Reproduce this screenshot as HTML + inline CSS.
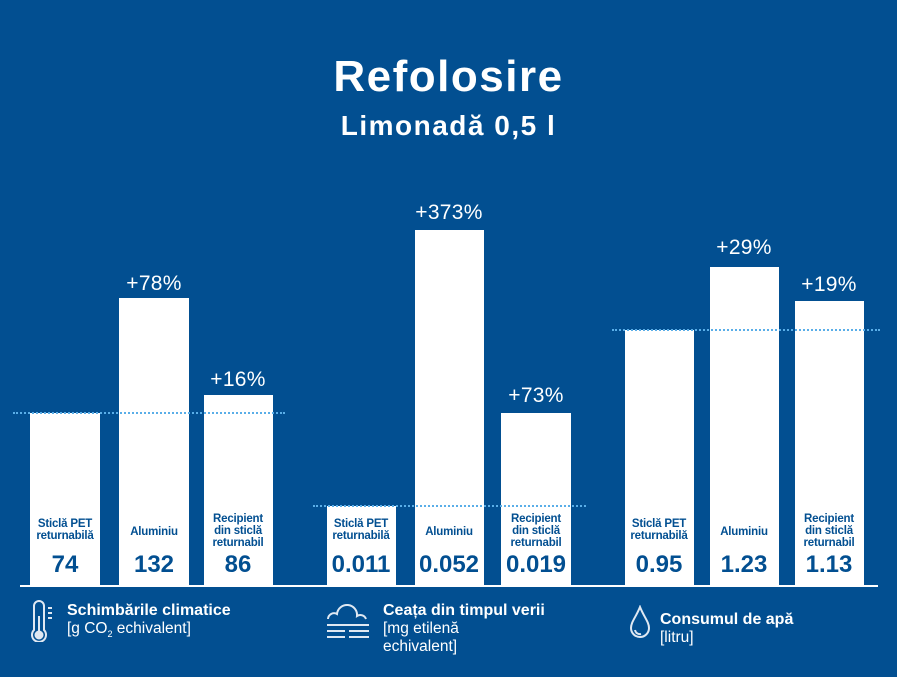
<!DOCTYPE html>
<html><head><meta charset="utf-8"><style>
body{margin:0;width:897px;height:677px;background:#024f91;position:relative;overflow:hidden;font-family:"Liberation Sans",sans-serif;color:#fff}
.a{position:absolute}
.t{left:0;width:897px;text-align:center;font-weight:bold}
.bar{position:absolute;background:#fff;bottom:92px}
.dot{position:absolute;border-top:2px dotted #5aaee8;height:0}
.pct{position:absolute;width:120px;margin-left:-60px;text-align:center;font-size:21px;letter-spacing:0.3px}
.lb{position:absolute;width:68px;margin-left:-34px;text-align:center;font-size:11.5px;font-weight:bold;color:#024f91;line-height:12px;letter-spacing:-0.2px}
.v{position:absolute;width:80px;margin-left:-40px;text-align:center;font-size:24px;font-weight:bold;color:#024f91;top:551px}
.lg{position:absolute;font-size:15.5px;line-height:18px}
.lg b{font-size:16px}
</style></head><body>
<div class="a t" style="top:52px;font-size:44px;letter-spacing:1.5px">Refolosire</div>
<div class="a t" style="top:110px;font-size:28px;letter-spacing:1.5px">Limonadă 0,5 l</div>

<div class="bar" style="left:30px;width:70px;top:413px"></div>
<div class="bar" style="left:119px;width:70px;top:298px"></div>
<div class="bar" style="left:204px;width:69px;top:395px"></div>
<div class="bar" style="left:327px;width:69px;top:506px"></div>
<div class="bar" style="left:415px;width:69px;top:230px"></div>
<div class="bar" style="left:501px;width:70px;top:413px"></div>
<div class="bar" style="left:625px;width:69px;top:330px"></div>
<div class="bar" style="left:710px;width:69px;top:267px"></div>
<div class="bar" style="left:795px;width:69px;top:301px"></div>
<div class="a" style="left:20px;top:585px;width:858px;height:2px;background:#fff"></div>

<div class="dot" style="left:13px;width:272px;top:412px"></div>
<div class="dot" style="left:313px;width:273px;top:505px"></div>
<div class="dot" style="left:612px;width:268px;top:329px"></div>

<div class="pct" style="left:154px;top:272px">+78%</div>
<div class="pct" style="left:238px;top:368px">+16%</div>
<div class="pct" style="left:449px;top:201px">+373%</div>
<div class="pct" style="left:536px;top:384px">+73%</div>
<div class="pct" style="left:744px;top:236px">+29%</div>
<div class="pct" style="left:829px;top:273px">+19%</div>

<div class="lb" style="left:65px;top:518px">Sticlă PET returnabilă</div>
<div class="lb" style="left:154px;top:526px">Aluminiu</div>
<div class="lb" style="left:238px;top:513px">Recipient din sticlă returnabil</div>
<div class="lb" style="left:361px;top:518px">Sticlă PET returnabilă</div>
<div class="lb" style="left:449px;top:526px">Aluminiu</div>
<div class="lb" style="left:536px;top:513px">Recipient din sticlă returnabil</div>
<div class="lb" style="left:659px;top:518px">Sticlă PET returnabilă</div>
<div class="lb" style="left:744px;top:526px">Aluminiu</div>
<div class="lb" style="left:829px;top:513px">Recipient din sticlă returnabil</div>

<div class="v" style="left:65px">74</div>
<div class="v" style="left:154px">132</div>
<div class="v" style="left:238px">86</div>
<div class="v" style="left:361px">0.011</div>
<div class="v" style="left:449px">0.052</div>
<div class="v" style="left:536px">0.019</div>
<div class="v" style="left:659px">0.95</div>
<div class="v" style="left:744px">1.23</div>
<div class="v" style="left:829px">1.13</div>

<svg class="a" style="left:28px;top:600px" width="30" height="42" fill="none" stroke="#dfe8f2" stroke-width="2">
<path d="M6 30 V6 a5 5 0 0 1 10 0 V30 a7 7 0 1 1 -10 0z"/><circle cx="11" cy="35" r="3.5" fill="#dfe8f2"/><line x1="11" y1="16" x2="11" y2="33"/>
<line x1="20" y1="8" x2="24" y2="8"/><line x1="20" y1="13" x2="24" y2="13"/><line x1="20" y1="18" x2="24" y2="18"/></svg>
<div class="lg" style="left:67px;top:602px"><b>Schimbările climatice</b><br>[g CO<sub style="font-size:9px">2</sub> echivalent]</div>

<svg class="a" style="left:325px;top:603px" width="46" height="36" fill="none" stroke="#dfe8f2" stroke-width="2">
<path d="M3 16 a6 6 0 0 1 9 -5 a10 10 0 0 1 20 2 a6 6 0 0 1 9 3"/>
<line x1="2" y1="22" x2="44" y2="22"/><line x1="2" y1="28" x2="20" y2="28"/><line x1="24" y1="28" x2="44" y2="28"/><line x1="2" y1="34" x2="20" y2="34"/><line x1="24" y1="34" x2="44" y2="34"/></svg>
<div class="lg" style="left:383px;top:602px"><b>Ceața din timpul verii</b><br>[mg etilenă<br>echivalent]</div>

<svg class="a" style="left:628px;top:605px" width="26" height="34" fill="none" stroke="#dfe8f2" stroke-width="2">
<path d="M12 2 C8 12 3 17 3 23 a9 9 0 0 0 18 0 C21 17 16 12 12 2z"/><path d="M7 25 a5 5 0 0 0 6 4"/></svg>
<div class="lg" style="left:660px;top:611px"><b>Consumul de apă</b><br>[litru]</div>
</body></html>
